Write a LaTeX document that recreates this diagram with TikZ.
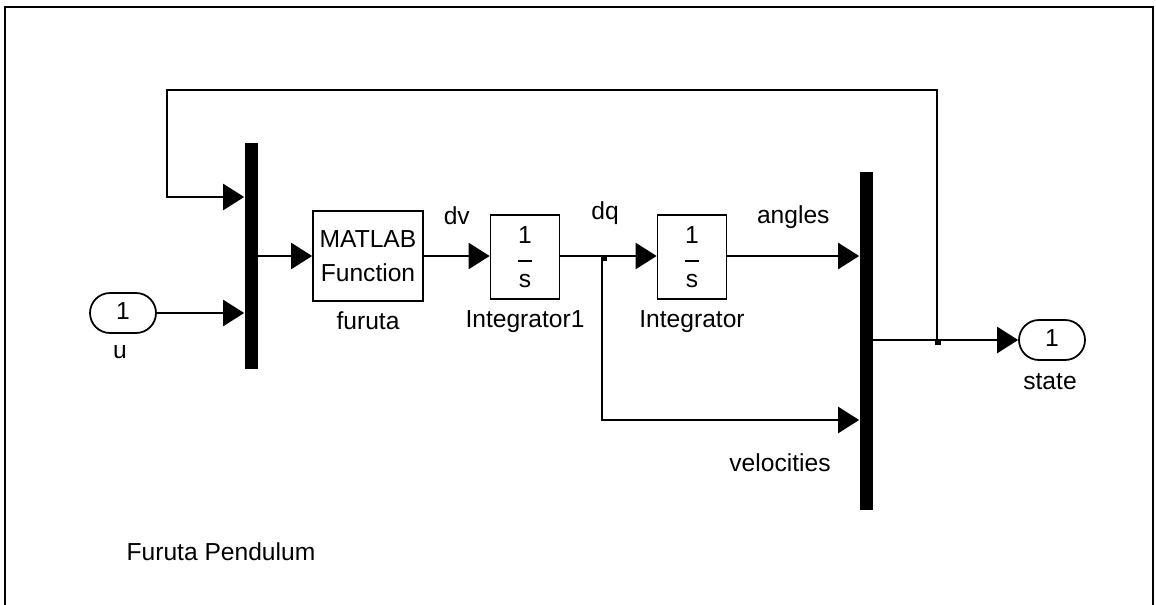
\documentclass[tikz,border=0pt]{standalone}
\usepackage{fontspec}
\setmainfont{Liberation Sans}
\usetikzlibrary{arrows.meta,shapes.misc,calc}

\begin{document}
\begin{tikzpicture}[x=0.02cm,y=-0.02cm,
    font=\fontsize{14}{16.5}\selectfont,
    blk/.style={draw,line width=1pt,inner sep=0pt,align=center},
    muxbar/.style={fill=black,inner sep=0pt,minimum width=0.26cm},
    port/.style={draw,rounded rectangle,line width=1pt,inner sep=0pt,minimum width=1.32cm,minimum height=0.8cm},
    sig/.style={line width=0.8pt,-{Triangle[length=12pt,width=15pt]}},
    tapmark/.style={fill=black,inner sep=0pt,minimum width=0.12cm,minimum height=0.1cm,anchor=north west}]
    \useasboundingbox (0,0) rectangle (1156,605);
    % frame
    \draw[line width=1pt] (5,605) -- (5,7) -- (1153,7) -- (1153,605);
    % blocks
    \node[port] (u) at (123,313) {\raisebox{2pt}{1}};
    \node at (120,352) {u};
    \node[muxbar,minimum height=4.54cm] (mux1) at (251,256) {};
    \node[blk,minimum width=2.2cm,minimum height=1.8cm] (fcn) at (368,256) {MATLAB\\[3pt]Function};
    \node at (368,321) {furuta};
    \node[blk,minimum width=1.38cm,minimum height=1.68cm] (int1) at (525,257) {1\\[-6pt]\rule{8pt}{0.9pt}\\[-2pt]s};
    \node at (525,322) {Integrator1};
    \node[blk,minimum width=1.38cm,minimum height=1.68cm] (int2) at (692,257) {1\\[-6pt]\rule{8pt}{0.9pt}\\[-2pt]s};
    \node at (692,322) {Integrator};
    \node[muxbar,minimum height=6.76cm] (mux2) at (866,341) {};
    \node[port] (state) at (1052,340) {\raisebox{2pt}{1}};
    \node at (1050,382) {state};
    \node at (221,552) {Furuta Pendulum};
    % branch points
    \coordinate (tap1) at (602,256);
    \coordinate (tap2) at (937,340);
    \coordinate (fbtop) at (167,90);
    \coordinate (fbin) at (167,197);
    \coordinate (velin) at (602,420);
    % signals
    \draw[sig] (u.east) -- (u.east -| mux1.west);
    \draw[sig] (tap2) |- (fbtop) |- (fbin -| mux1.west);
    \draw[sig] (mux1.east |- fcn) -- (fcn.west);
    \draw[sig] (fcn.east) -- (int1.west |- fcn) node[midway,above=14pt] {dv};
    \draw[sig] (int1.east |- tap1) -- (int2.west |- tap1);
    \node at (605,213) {dq};
    \draw[sig] (int2.east |- tap1) -- (tap1 -| mux2.west) node[pos=0.5,above=12pt] {angles};
    \draw[sig] (tap1) |- (velin -| mux2.west);
    \node at (780,463) {velocities};
    \draw[sig] (mux2.east |- state) -- (state.west);
    \node[tapmark] at ($(tap1)+(-1,0)$) {};
    \node[tapmark] at ($(tap2)+(-2,0)$) {};
\end{tikzpicture}
\end{document}
